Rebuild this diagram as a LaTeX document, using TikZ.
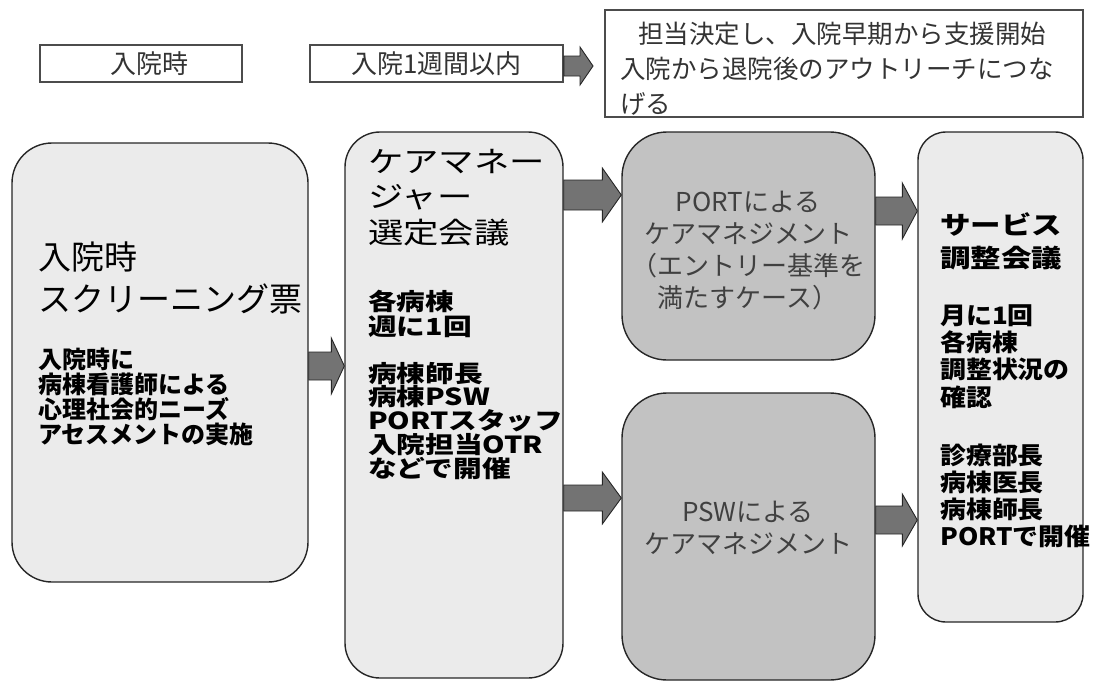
\documentclass[tikz,border=0pt]{standalone}
\usepackage{fontspec}
\newfontfamily\jp{Noto Sans CJK JP}
\newfontfamily\jpw[FakeStretch=1.22]{Noto Sans CJK JP}
\newfontfamily\jpm[FakeStretch=1.08]{Noto Sans CJK JP}
\usetikzlibrary{calc}
\newcommand\fs[2]{\fontsize{#1pt}{#2pt}\selectfont}
% block arrow: from anchor, to anchor, y, shaft half, head half, head length
\newcommand\blockarr[6]{%
  \draw[barrow] ($(#1 |- 0,#3)+(0,-#4)$) -- ($(#2 |- 0,#3)+(-#6,-#4)$)
    -- ($(#2 |- 0,#3)+(-#6,-#5)$) -- (#2 |- 0,#3)
    -- ($(#2 |- 0,#3)+(-#6,#5)$) -- ($(#2 |- 0,#3)+(-#6,#4)$)
    -- ($(#1 |- 0,#3)+(0,#4)$) -- cycle;}
\begin{document}
\begin{tikzpicture}[x=1pt,y=-1pt,
  roundlight/.style={draw=black!85, line width=1.4pt, fill=black!8, rounded corners=#1, inner sep=0pt},
  rounddark/.style={draw=black!85, line width=1.4pt, fill=black!24, rounded corners=#1, inner sep=0pt},
  tagbox/.style={draw=black!70, line width=1.6pt, fill=white, inner sep=0pt, text=black!80, font=\jp\fs{26}{30}},
  barrow/.style={draw=black!85, line width=0.9pt, fill=black!55, line join=miter},
  txt/.style={anchor=base west, align=left, inner sep=0pt},
  ctxt/.style={anchor=base, align=center, inner sep=0pt, text=black!75, font=\jp\fs{26}{31.7}}]
\useasboundingbox (0,0) rectangle (1095,681);

% header tags (text nodes placed at the baseline of their LAST line)
\node[tagbox, minimum width=202pt, minimum height=37pt] (l1) at (141,63.5) {};
\node[inner sep=0pt, text=black!80, font=\jp\fs{26}{30}] (l1t) at (149,63.5) {入院時};
\node[tagbox, minimum width=253pt, minimum height=37pt] (l2) at (436.5,63.5) {入院1週間以内};
\node[tagbox, minimum width=478pt, minimum height=107pt] (tb) at (844,63.5) {};
\node[txt, text=black!80, font=\jp\fs{25.5}{35}] (tbt) at (620,113)
  {\hspace{18pt}担当決定し、入院早期から支援開始\\入院から退院後のアウトリーチにつな\\げる};
\coordinate (t0) at (593,66);
\blockarr{l2.east}{t0}{66}{10}{19}{13}

% main boxes
\node[roundlight=40pt, minimum width=296pt, minimum height=439pt] (b1) at (160,362.5) {};
\node[roundlight=35pt, minimum width=218pt, minimum height=546pt] (b2) at (454,405) {};
\node[rounddark=45pt, minimum width=253pt, minimum height=228pt] (b3) at (748.5,246) {};
\node[rounddark=45pt, minimum width=253pt, minimum height=287pt] (b4) at (748.5,536.5) {};
\node[roundlight=28pt, minimum width=165pt, minimum height=490pt] (b5) at (1000.5,377) {};

% box 1 text
\node[txt, font=\jp\fs{33}{42}] (b1a) at (38,311) {入院時\\スクリーニング票};
\node[txt, font=\jp\bfseries\fs{24}{24.7}] (b1b) at (38,443)
  {入院時に\\病棟看護師による\\心理社会的ニーズ\\アセスメントの実施};

% box 2 text
\node[txt, font=\jpw\fs{29}{35.5}] (b2a) at (368,243) {ケアマネー\\ジャー\\選定会議};
\node[txt, font=\jpw\bfseries\fs{23.5}{25.5}] (b2b) at (368,335.5) {各病棟\\週に1回};
\node[txt, font=\jpw\bfseries\fs{23.5}{23.75}] (b2c) at (368,477)
  {病棟師長\\病棟PSW\\PORTスタッフ\\入院担当OTR\\などで開催};

% box 3 / 4 text
\node[ctxt] (b3t) at (748,307) {PORTによる\\ケアマネジメント\\（エントリー基準を\\満たすケース）};
\node[ctxt] (b4t) at (748,553) {PSWによる\\ケアマネジメント};

% box 5 text
\node[txt, font=\jpw\bfseries\fs{25}{33}] (b5a) at (940,267) {サービス\\調整会議};
\node[txt, font=\jpm\bfseries\fs{24}{27.3}] (b5b) at (940,406) {月に1回\\各病棟\\調整状況の\\確認};
\node[txt, font=\jpm\bfseries\fs{24}{26.7}] (b5c) at (940,545) {診療部長\\病棟医長\\病棟師長\\PORTで開催};

% arrows
\blockarr{b1.east}{b2.west}{366}{14}{28}{13}
\blockarr{b2.east}{b3.west}{195}{15}{27}{19}
\blockarr{b2.east}{b4.west}{498}{13}{26}{19}
\blockarr{b3.east}{b5.west}{211}{14}{28}{15}
\blockarr{b4.east}{b5.west}{520}{14}{26}{15}
\end{tikzpicture}
\end{document}
